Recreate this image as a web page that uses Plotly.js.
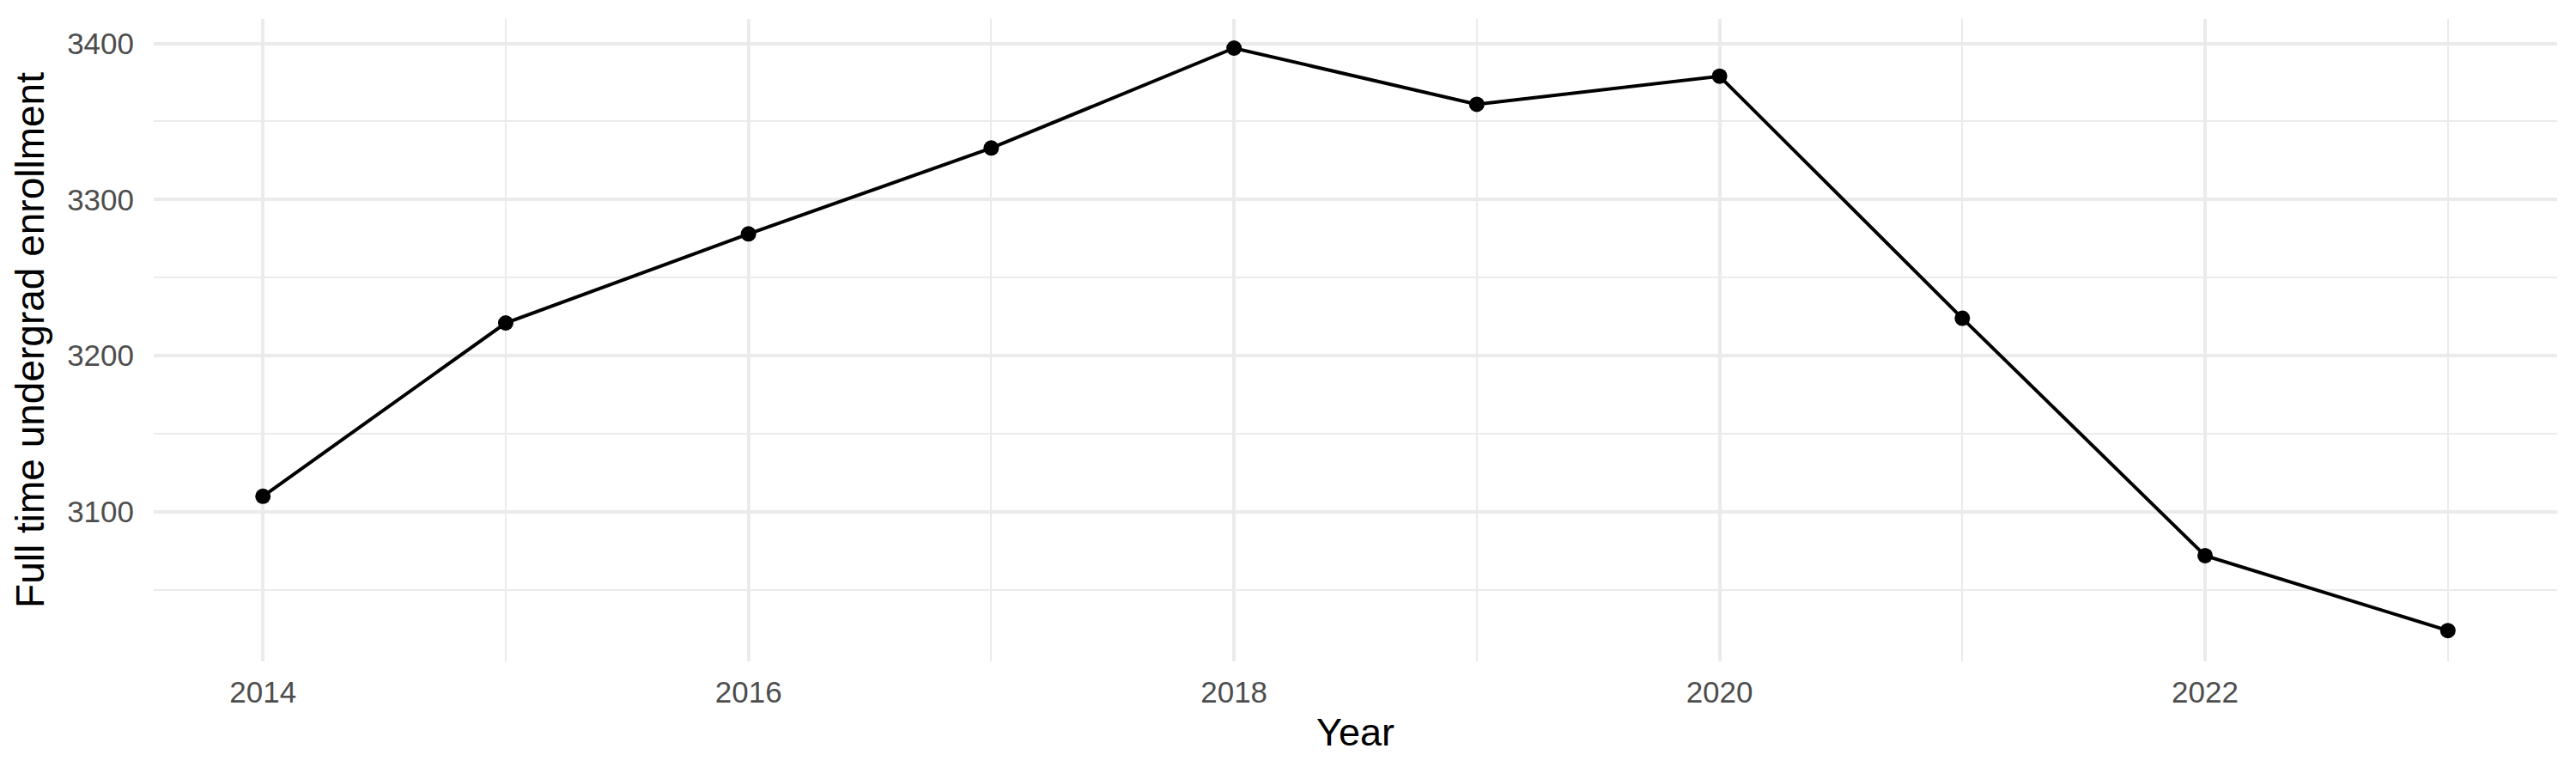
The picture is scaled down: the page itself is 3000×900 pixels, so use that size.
<!DOCTYPE html>
<html>
<head>
<meta charset="utf-8">
<script src="https://cdn.plot.ly/plotly-3.0.1.min.js"></script>
<style>
  html, body { margin: 0; padding: 0; background: #fff; }
  #plot { width: 3000px; height: 900px; }
</style>
</head>
<body>
<div id="plot"></div>
<script>
// full time undergrad enrollment by year
var years = [2014, 2015, 2016, 2017, 2018, 2019, 2020, 2021, 2022, 2023];
var enrollment = [3110, 3221, 3278, 3333, 3397, 3361, 3379, 3224, 3072, 3024];
var xTicks = [2014, 2016, 2018, 2020, 2022];
var yTicks = [3100, 3200, 3300, 3400];

var trace = {
  x: years,
  y: enrollment,
  type: "scatter",
  mode: "lines+markers",
  line: { color: "#000000", width: 4 },
  marker: { color: "#000000", size: 18 },
  cliponaxis: false,
  hoverinfo: "x+y"
};

var gridCol = "#ebebeb";

var layout = {
  width: 3000,
  height: 900,
  margin: { l: 179, r: 22, t: 22, b: 130 },
  paper_bgcolor: "#ffffff",
  plot_bgcolor: "#ffffff",
  showlegend: false,
  font: { family: "Liberation Sans, Arial, sans-serif", color: "#000000" },
  xaxis: {
    range: [2013.55, 2023.45],
    tickmode: "array",
    tickvals: xTicks,
    ticktext: xTicks.map(String),
    ticks: "",
    ticklabelstandoff: 12,
    tickfont: { size: 35, color: "#4d4d4d" },
    showgrid: true,
    gridcolor: gridCol,
    gridwidth: 4,
    minor: { dtick: 1, tick0: 2014, showgrid: true, gridcolor: gridCol, gridwidth: 2 },
    zeroline: false,
    showline: false,
    title: { text: "Year", font: { size: 45, color: "#000000" }, standoff: 12 }
  },
  yaxis: {
    range: [3004.3, 3415.7],
    tickmode: "array",
    tickvals: yTicks,
    ticktext: yTicks.map(String),
    ticks: "",
    ticklabelstandoff: 22,
    tickfont: { size: 35, color: "#4d4d4d" },
    showgrid: true,
    gridcolor: gridCol,
    gridwidth: 4,
    minor: { dtick: 50, tick0: 3050, showgrid: true, gridcolor: gridCol, gridwidth: 2 },
    zeroline: false,
    showline: false,
    title: { text: "Full time undergrad enrollment", font: { size: 46, color: "#000000" }, standoff: 12 }
  }
};

Plotly.newPlot("plot", [trace], layout, { displayModeBar: false, staticPlot: true });
</script>
</body>
</html>
